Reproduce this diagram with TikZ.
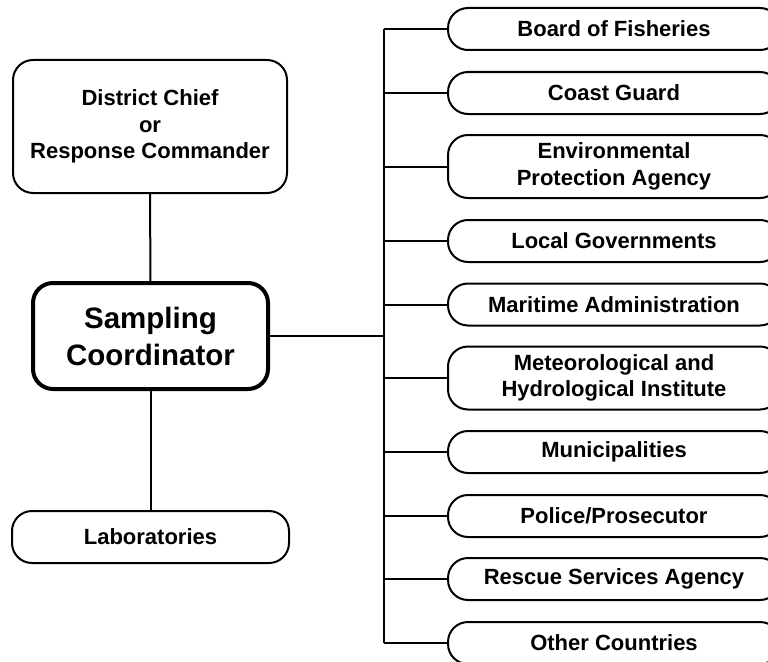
\documentclass[tikz,border=0pt]{standalone}
\usepackage{fontspec}
\setmainfont{Liberation Sans}
\begin{document}
\begin{tikzpicture}[x=1pt,y=-1pt,
  every node/.style={inner sep=0pt,outer sep=0pt,align=center,font=\fontsize{22}{26.5}\selectfont\bfseries},
  box/.style={draw,line width=2pt,rounded corners=20pt,fill=white},
  rbox/.style={box,minimum width=332pt,minimum height=42pt},
  rboxtall/.style={box,minimum width=332pt,minimum height=63pt},
  link/.style={line width=2pt}]
\path[use as bounding box,clip] (0,0) rectangle (768,661);
\fill[white] (0,0) rectangle (768,661);
% left column
\node[box,minimum width=274pt,minimum height=133pt] (dc) at (150,126.5) {District Chief\\or\\Response Commander};
\node[box,line width=4pt,minimum width=235pt,minimum height=106pt,font=\fontsize{29.5}{37}\selectfont\bfseries] (sc) at (150.5,336) {Sampling\\Coordinator};
\node[box,minimum width=277pt,minimum height=52pt] (lab) at (150.5,537) {Laboratories};
% right column
\node[rbox] (b1) at (614,29) {Board of Fisheries};
\node[rbox] (b2) at (614,93) {Coast Guard};
\node[rboxtall] (b3) at (614,166.5) {Environmental\\Protection Agency};
\node[rbox] (b4) at (614,241) {Local Governments};
\node[rbox] (b5) at (614,304.5) {Maritime Administration};
\node[rboxtall] (b6) at (614,378) {Meteorological and\\Hydrological Institute};
\node[rbox] (b7) at (614,452) {Municipalities};
\node[rbox] (b8) at (614,516) {Police/Prosecutor};
\node[rbox] (b9) at (614,579) {Rescue Services Agency};
\node[rbox] (b10) at (614,643) {Other Countries};
% spine
\coordinate (spt) at (384,29);
\coordinate (spb) at (384,643);
\draw[link] (spt) -- (spb);
\draw[link] (dc.south) -- (sc.north);
\draw[link] (sc.south) -- (lab.north);
\draw[link] (sc.east) -- (sc.east -| spt);
\foreach \b in {b1,b2,b3,b4,b5,b6,b7,b8,b9,b10}{
  \draw[link] (\b.west) -- (\b.west -| spt);
}
\end{tikzpicture}
\end{document}
